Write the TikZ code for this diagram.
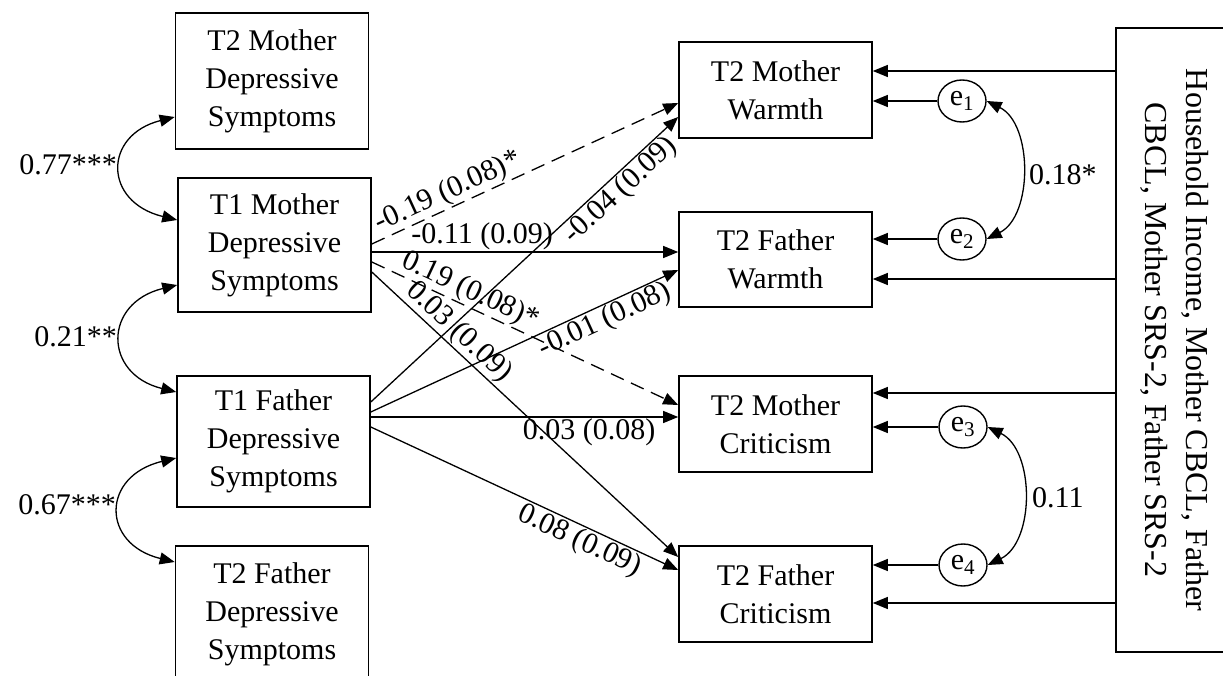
\documentclass[tikz,border=0pt]{standalone}
\usepackage{fontspec}
\setmainfont{Liberation Serif}
\usetikzlibrary{arrows.meta,shapes.geometric}
\begin{document}
\begin{tikzpicture}[x=1pt,y=-1pt,
  every node/.style={font=\fontsize{30}{38}\selectfont},
  box/.style={draw, line width=1.6pt, inner sep=0pt, align=center, anchor=center, minimum width=193pt},
  err/.style={draw, ellipse, line width=1.4pt, minimum width=48pt, minimum height=42pt, inner sep=0pt},
  arr/.style={line width=1.3pt, -{Triangle[length=15pt,width=12pt]}},
  darr/.style={line width=1.3pt, {Triangle[length=15pt,width=12pt]}-{Triangle[length=15pt,width=12pt]}},
  dsh/.style={dash pattern=on 14pt off 8pt},
  lab/.style={inner sep=1pt, sloped},
  cl/.style={inner sep=0pt}
]
\useasboundingbox (0,0) rectangle (1223,676);
\clip (0,0) rectangle (1223,676);

% left boxes
\node[box, minimum height=136pt] (dm2) at (272,81) {T2 Mother\\Depressive\\Symptoms};
\node[box, minimum height=134pt] (dm1) at (274.5,245) {T1 Mother\\Depressive\\Symptoms};
\node[box, minimum height=131pt] (df1) at (273.5,441.5) {T1 Father\\Depressive\\Symptoms};
\node[box, minimum height=136pt] (df2) at (272,614) {T2 Father\\Depressive\\Symptoms};

% right boxes
\node[box, minimum height=96pt] (mw) at (775.5,90) {T2 Mother\\Warmth};
\node[box, minimum height=95pt] (fw) at (775.5,259.5) {T2 Father\\Warmth};
\node[box, minimum height=96pt] (mc) at (775.5,424) {T2 Mother\\Criticism};
\node[box, minimum height=96pt] (fc) at (775.5,594) {T2 Father\\Criticism};

% covariates
\node[draw, line width=1.6pt, minimum width=118pt, minimum height=624pt, inner sep=0pt] (cov) at (1175,340) {};
\node[rotate=-90, align=center, inner sep=0pt, font=\fontsize{32}{41}\selectfont] (covt) at (cov.center) {Household Income, Mother CBCL, Father\\CBCL, Mother SRS-2, Father SRS-2};

% error terms
\node[err] (e1) at (962,101) {e\textsubscript{1}};
\node[err] (e2) at (962,239) {e\textsubscript{2}};
\node[err] (e3) at (963,427) {e\textsubscript{3}};
\node[err] (e4) at (963,565) {e\textsubscript{4}};

% left covariances
\draw[darr] ([yshift=-36pt]dm2.west) .. controls (103,135) and (103,202) .. ([yshift=25pt]dm1.west);
\draw[darr] ([yshift=-40pt]dm1.west) .. controls (103,303) and (103,374) .. ([yshift=49.5pt]df1.west);
\draw[darr] ([yshift=-16.5pt]df1.west) .. controls (101,476) and (101,544) .. ([yshift=52pt]df2.west);
\node[cl, anchor=east] (l1) at (117,165) {0.77***};
\node[cl, anchor=east] (l2) at (117,337) {0.21**};
\node[cl, anchor=east] (l3) at (116,505) {0.67***};

% paths from T1 mother
\draw[arr,dsh] ([yshift=1pt]dm1.east) -- node[lab, above, pos=0.27]{-0.19 (0.08)*} ([yshift=-13pt]mw.west);
\draw[arr] ([yshift=-7pt]dm1.east) -- node[lab, above, pos=0.36]{-0.11 (0.09)} ([yshift=7.5pt]fw.west);
\draw[arr,dsh] ([yshift=-17pt]dm1.east) -- node[lab, above, pos=0.30]{0.19 (0.08)*} ([yshift=19pt]mc.west);
\draw[arr] ([yshift=-27pt]dm1.east) -- node[lab, above, pos=0.25]{0.03 (0.09)} ([yshift=37pt]fc.west);

% paths from T1 father
\draw[arr] ([yshift=39.5pt]df1.east) -- node[lab, below, pos=0.78]{-0.04 (0.09)} ([yshift=-27pt]mw.west);
\draw[arr] ([yshift=29.5pt]df1.east) -- node[lab, below, pos=0.74]{-0.01 (0.08)} ([yshift=-10.5pt]fw.west);
\draw[arr] ([yshift=24.5pt]df1.east) -- node[lab, below, pos=0.71]{0.03 (0.08)} ([yshift=7pt]mc.west);
\draw[arr] ([yshift=14.5pt]df1.east) -- node[lab, below, pos=0.70]{0.08 (0.09)} ([yshift=24pt]fc.west);

% covariate arrows
\coordinate (c1) at ([yshift=19pt]mw.east);
\coordinate (c2) at ([yshift=-19.5pt]fw.east);
\coordinate (c3) at ([yshift=31pt]mc.east);
\coordinate (c4) at ([yshift=-9pt]fc.east);
\draw[arr] (c1 -| cov.west) -- (c1);
\draw[arr] (c2 -| cov.west) -- (c2);
\draw[arr] (c3 -| cov.west) -- (c3);
\draw[arr] (c4 -| cov.west) -- (c4);

% error arrows
\draw[arr] (e1) -- (e1 -| mw.east);
\draw[arr] (e2) -- (e2 -| fw.east);
\draw[arr] (e3) -- (e3 -| mc.east);
\draw[arr] (e4) -- (e4 -| fc.east);

% residual covariances
\draw[darr] (e1.east) .. controls (1033,124) and (1033,216) .. (e2.east);
\draw[darr] (e3.east) .. controls (1035,450) and (1035,542) .. (e4.east);
\node[cl, anchor=west] (l4) at (1029,175) {0.18*};
\node[cl, anchor=west] (l5) at (1032,498) {0.11};
\end{tikzpicture}
\end{document}
